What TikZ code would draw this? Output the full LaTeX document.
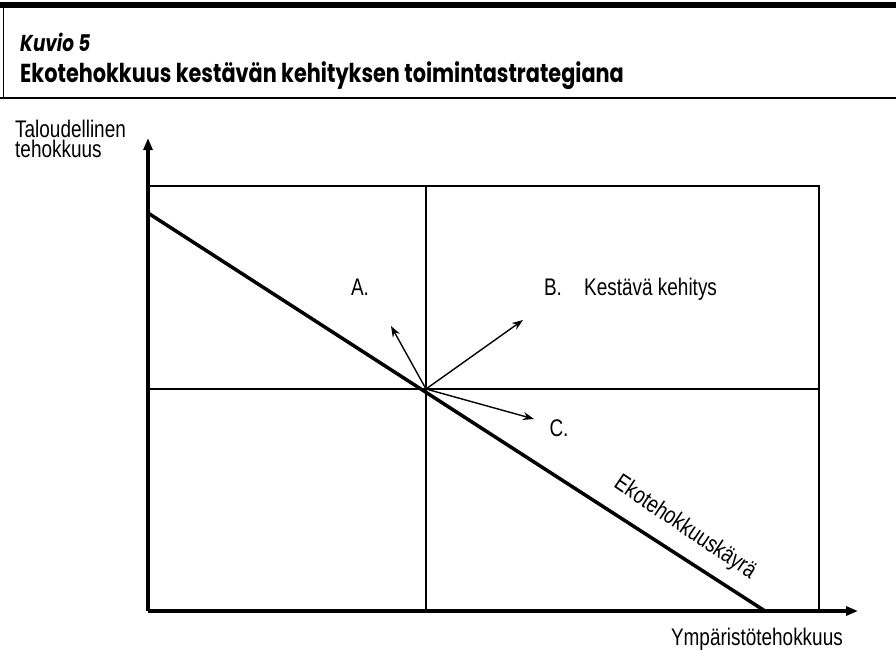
\documentclass[tikz,border=0pt]{standalone}
\usepackage{fontspec}
\setmainfont{Liberation Sans}[FakeStretch=0.79]
\newfontfamily\titlefont{Poppins}[FakeStretch=0.8]
\usetikzlibrary{arrows.meta}
\begin{document}
\begin{tikzpicture}[x=1pt,y=-1pt,
  axis/.style={line width=3.2pt, -{Triangle[length=12pt,width=9pt]}},
  gridline/.style={line width=1.3pt},
  curve/.style={line width=3.5pt},
  vec/.style={line width=1.4pt, -{Stealth[length=11pt,width=8pt]}},
  lab/.style={font=\fontsize{24}{26}\selectfont, inner sep=0pt}]
\useasboundingbox (0,0) rectangle (896,649);
% header frame
\fill (0,2) rectangle (896,8);
\draw[line width=0.8pt] (3,8) -- (3,98);
\draw[line width=1.3pt] (0,98) -- (896,98);
\node[anchor=base west, inner sep=0pt, font=\titlefont\bfseries\itshape\fontsize{23}{26}\selectfont] (kuvio) at (20,51) {Kuvio 5};
\node[anchor=base west, inner sep=0pt, font=\titlefont\bfseries\fontsize{26}{30}\selectfont] (title) at (20,82) {Ekotehokkuus kestävän kehityksen toimintastrategiana};
% coordinates
\coordinate (O) at (148,611);
\coordinate (ytip) at (148,138);
\coordinate (xtip) at (858,611);
\coordinate (C) at (426,389);
\coordinate (cs) at (148,213);
\coordinate (ce) at (765,611);
\coordinate (a) at (391,326);
\coordinate (b) at (523,320);
\coordinate (c) at (534,419);
% grid
\draw[gridline] (148,186) -| (819,611);
\draw[gridline] (148,389) -- (819,389);
\draw[gridline] (426,186) -- (426,611);
% axes
\draw[axis] (O) -- (ytip);
\draw[axis] (O) -- (xtip);
% curve
\draw[curve] (cs) -- (ce);
% vectors
\draw[vec] (C) -- (a);
\draw[vec] (C) -- (b);
\draw[vec] (C) -- (c);
% labels
\node[lab, anchor=base] (la) at (360,295) {A.};
\node[lab, anchor=base] (lb) at (553,295) {B.};
\node[lab, anchor=base west] (lk) at (584,295) {Kestävä kehitys};
\node[lab] (lc) at (559,428) {C.};
\node[lab, rotate=-34] (lcurve) at (685,528) {Ekotehokkuuskäyrä};
\node[lab, anchor=base west] (ylab1) at (15,137) {Taloudellinen};
\node[lab, anchor=base west] (ylab2) at (15,157) {tehokkuus};
\node[lab, anchor=base east] (xlab) at (843,645) {Ympäristötehokkuus};
\end{tikzpicture}
\end{document}
